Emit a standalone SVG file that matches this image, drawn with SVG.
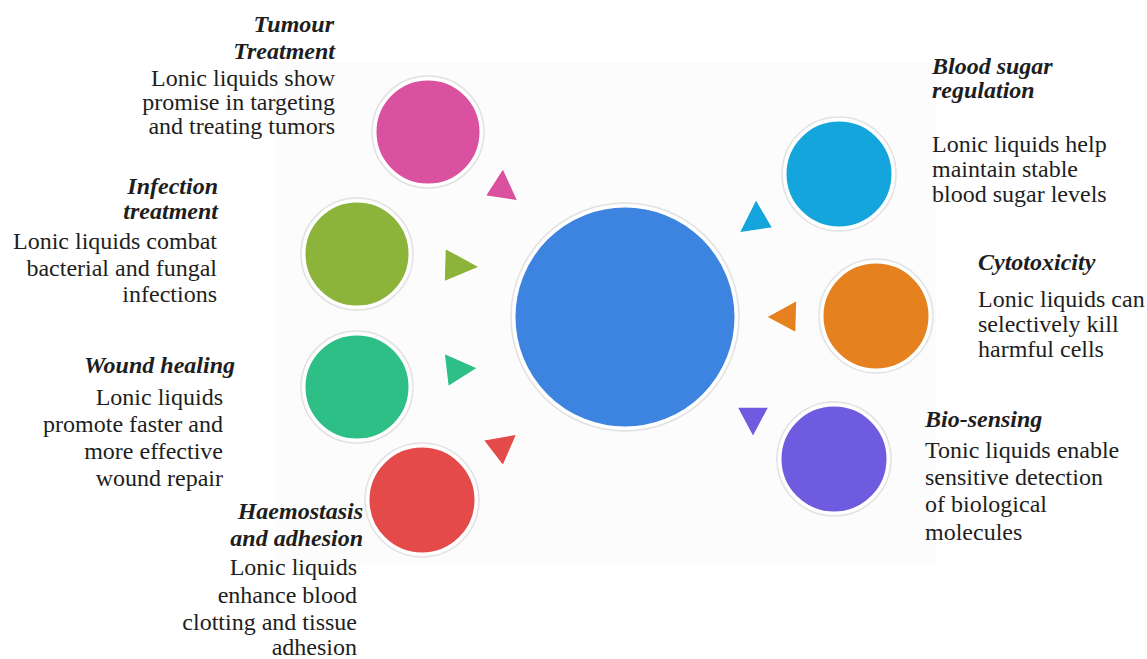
<svg xmlns="http://www.w3.org/2000/svg" width="1147" height="659" viewBox="0 0 1147 659">
<style>
.ring{fill:none;stroke:#e2e2e2;stroke-width:1.5}
.c{stroke:#ffffff;stroke-width:3}
.tri{stroke:#ffffff;stroke-width:1.5;stroke-linejoin:round}
text{fill:#1e1e1e}
.t{font-weight:bold;font-style:italic}
.r{text-anchor:end}
</style>
<rect x="0" y="0" width="1147" height="659" fill="#ffffff"/>
<rect x="276" y="62" width="660" height="503" fill="#fcfcfc"/>
<g id="connectors">
<polygon class="tri" points="503,168 485,196 518,201" fill="#d9519f"/>
<polygon class="tri" points="445,248 444,282 480,267" fill="#8cb43a"/>
<polygon class="tri" points="444,353 448,387 478,368" fill="#2ebf86"/>
<polygon class="tri" points="483,440 517,434 503,466" fill="#e54a4a"/>
<polygon class="tri" points="756,199 739,233 773,228" fill="#15a5dd"/>
<polygon class="tri" points="766,317 797,300 796,333" fill="#e5821f"/>
<polygon class="tri" points="737,407 769,407 753,437" fill="#6f5be0"/>
</g>
<g id="center">
<circle class="ring" cx="625" cy="317" r="114"/>
<circle class="c" cx="625" cy="317" r="111" fill="#3d84e0"/>
</g>
<g font-family="'Liberation Serif', 'Times New Roman', serif" font-size="24">
<g id="tumour">
<circle class="ring" cx="428" cy="132" r="56"/>
<circle class="c" cx="428" cy="132" r="53" fill="#d9519f"/>
<text class="t r" x="334" y="32">Tumour</text>
<text class="t r" x="335" y="59">Treatment</text>
<text class="r" x="335" y="86">Lonic liquids show</text>
<text class="r" x="335" y="110">promise in targeting</text>
<text class="r" x="335" y="134">and treating tumors</text>
</g>
<g id="infection">
<circle class="ring" cx="357" cy="254" r="56"/>
<circle class="c" cx="357" cy="254" r="53" fill="#8cb43a"/>
<text class="t r" x="218" y="194">Infection</text>
<text class="t r" x="218" y="219">treatment</text>
<text class="r" x="217" y="249">Lonic liquids combat</text>
<text class="r" x="217" y="276">bacterial and fungal</text>
<text class="r" x="217" y="302">infections</text>
</g>
<g id="wound">
<circle class="ring" cx="357" cy="387" r="56"/>
<circle class="c" cx="357" cy="387" r="53" fill="#2ebf86"/>
<text class="t r" x="235" y="373">Wound healing</text>
<text class="r" x="223" y="405">Lonic liquids</text>
<text class="r" x="223" y="432">promote faster and</text>
<text class="r" x="223" y="459">more effective</text>
<text class="r" x="223" y="486">wound repair</text>
</g>
<g id="haemostasis">
<circle class="ring" cx="422" cy="500" r="57"/>
<circle class="c" cx="422" cy="500" r="54" fill="#e54a4a"/>
<text class="t r" x="363" y="519">Haemostasis</text>
<text class="t r" x="363" y="546">and adhesion</text>
<text class="r" x="357" y="575">Lonic liquids</text>
<text class="r" x="357" y="603">enhance blood</text>
<text class="r" x="357" y="630">clotting and tissue</text>
<text class="r" x="357" y="655">adhesion</text>
</g>
<g id="bloodsugar">
<circle class="ring" cx="839" cy="174" r="57"/>
<circle class="c" cx="839" cy="174" r="54" fill="#15a5dd"/>
<text class="t" x="932" y="74">Blood sugar</text>
<text class="t" x="932" y="98">regulation</text>
<text x="932" y="152">Lonic liquids help</text>
<text x="932" y="177">maintain stable</text>
<text x="932" y="202">blood sugar levels</text>
</g>
<g id="cytotoxicity">
<circle class="ring" cx="876" cy="316" r="57"/>
<circle class="c" cx="876" cy="316" r="54" fill="#e5821f"/>
<text class="t" x="978" y="270">Cytotoxicity</text>
<text x="978" y="307">Lonic liquids can</text>
<text x="978" y="332">selectively kill</text>
<text x="978" y="357">harmful cells</text>
</g>
<g id="biosensing">
<circle class="ring" cx="834" cy="459" r="57"/>
<circle class="c" cx="834" cy="459" r="54" fill="#6f5be0"/>
<text class="t" x="925" y="427">Bio-sensing</text>
<text x="925" y="458">Tonic liquids enable</text>
<text x="925" y="485">sensitive detection</text>
<text x="925" y="512">of biological</text>
<text x="925" y="540">molecules</text>
</g>
</g>
</svg>
